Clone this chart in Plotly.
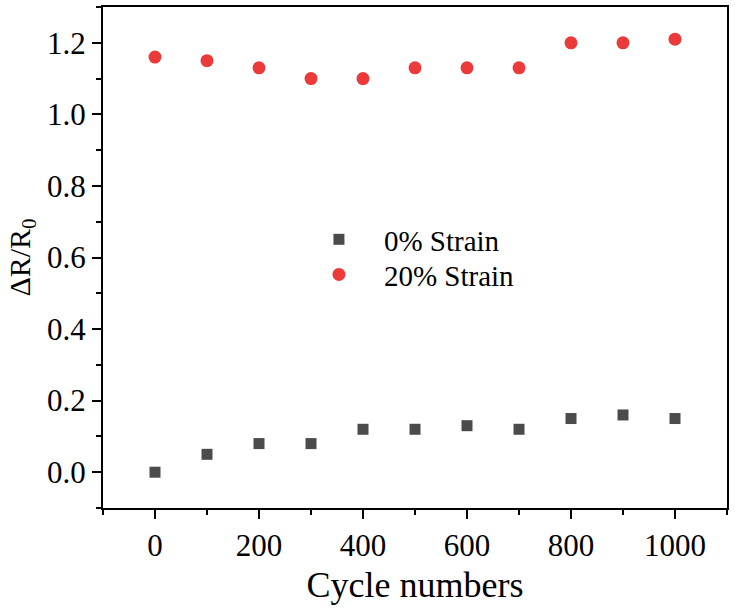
import plotly.graph_objects as go

cycles = [0, 100, 200, 300, 400, 500, 600, 700, 800, 900, 1000]
strain0 = [0.00, 0.05, 0.08, 0.08, 0.12, 0.12, 0.13, 0.12, 0.15, 0.16, 0.15]
strain20 = [1.16, 1.15, 1.13, 1.10, 1.10, 1.13, 1.13, 1.13, 1.20, 1.20, 1.21]
names = ["0% Strain", "20% Strain"]

FONT = "Liberation Serif"

fig = go.Figure()
fig.add_trace(go.Scatter(x=cycles, y=strain0, mode="markers", name=names[0],
                         legend="legend",
                         marker=dict(symbol="square", size=11, color="#4b4b4b",
                                     line=dict(width=0))))
fig.add_trace(go.Scatter(x=cycles, y=strain20, mode="markers", name=names[1],
                         legend="legend2",
                         marker=dict(symbol="circle", size=13, color="#ec3a3a",
                                     line=dict(width=0))))

axis_common = dict(showline=True, linecolor="black", linewidth=2, mirror=True,
                   ticks="outside", tickcolor="black", tickwidth=2, ticklen=9,
                   showgrid=False, zeroline=False,
                   tickfont=dict(family=FONT, size=31, color="black"))

fig.update_xaxes(range=[-100, 1100], tickmode="linear", tick0=0, dtick=200,
                 minor=dict(ticks="outside", tick0=0, dtick=100, ticklen=5,
                            tickwidth=2, tickcolor="black"),
                 title=dict(text="Cycle numbers", font=dict(family=FONT, size=36, color="black"),
                            standoff=10),
                 **axis_common)
fig.update_yaxes(range=[-0.1, 1.3], tickmode="linear", tick0=0, dtick=0.2,
                 tickformat=".1f",
                 minor=dict(ticks="outside", tick0=0, dtick=0.1, ticklen=5,
                            tickwidth=2, tickcolor="black"),
                 title=dict(text="ΔR/R<sub>0</sub>", font=dict(family=FONT, size=30, color="black"),
                            standoff=8),
                 **axis_common)

leg_common = dict(xanchor="left", yanchor="middle", bgcolor="rgba(0,0,0,0)",
                  itemwidth=80, font=dict(family=FONT, size=29, color="black"))

fig.update_layout(
    width=735, height=611,
    margin=dict(l=103, r=8, t=5, b=103),
    paper_bgcolor="white", plot_bgcolor="white",
    showlegend=True,
    legend=dict(x=0.306, y=0.536, **leg_common),
    legend2=dict(x=0.306, y=0.466, **leg_common),
)

fig.write_html("out.html", config={"displayModeBar": False},
               post_script="document.body.style.margin='0px';")
